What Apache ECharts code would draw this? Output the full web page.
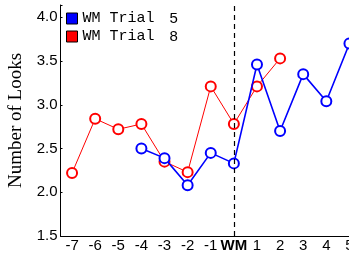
<!DOCTYPE html>
<html>
<head>
<meta charset="UTF-8">
<script src="https://cdn.jsdelivr.net/npm/echarts@6/dist/echarts.min.js"></script>
<style>
  html, body { margin: 0; padding: 0; background: #fff; }
  #chart { width: 349px; height: 255px; }
</style>
</head>
<body>
<div id="chart"></div>
<script>
// trial positions relative to the WM trial
var trials = ['-7', '-6', '-5', '-4', '-3', '-2', '-1', 'WM', '1', '2', '3', '4', '5'];
// mean number of looks
var wmTrial5 = [null, null, null, 2.50, 2.39, 2.08, 2.45, 2.33, 3.46, 2.70, 3.35, 3.04, 3.70];
var wmTrial8 = [2.22, 2.84, 2.72, 2.78, 2.35, 2.23, 3.21, 2.78, 3.21, 3.53, null, null, null];

var chart = echarts.init(document.getElementById('chart'));
chart.setOption({
    animation: false,
    grid: { left: 60.5, right: -12, top: 5, bottom: 19, containLabel: false, outerBoundsMode: 'none' },
    legend: {
        orient: 'vertical',
        left: 61,
        top: 6,
        itemWidth: 11,
        itemHeight: 11,
        itemGap: 3,
        icon: 'rect',
        itemStyle: { borderColor: '#000', borderWidth: 1 },
        formatter: function (name) {
            var parts = name.split(' ');
            var num = parts.pop();
            return '{a|' + parts.join(' ') + '}{b|' + num + '}';
        },
        textStyle: {
            rich: {
                a: { fontFamily: 'Liberation Mono', fontSize: 15, color: '#000' },
                b: { fontFamily: 'Liberation Sans', fontSize: 15, color: '#000', padding: [0, 0, 0, 15] }
            }
        },
        data: ['WM Trial 5', 'WM Trial 8']
    },
    xAxis: {
        type: 'category',
        data: trials,
        boundaryGap: true,
        axisLine: { lineStyle: { color: '#000', width: 1 } },
        axisTick: { alignWithLabel: true, interval: 0, length: 4, lineStyle: { color: '#000' } },
        axisLabel: {
            interval: 0,
            color: '#000', fontFamily: 'Liberation Sans', fontSize: 15, margin: 2,
            formatter: function (v) { return v === 'WM' ? '{w|WM}' : v; },
            rich: { w: { fontWeight: 'bold', fontFamily: 'Liberation Sans', fontSize: 15, color: '#000' } }
        },
        splitLine: { show: false }
    },
    yAxis: {
        type: 'value',
        min: 1.5,
        max: 4.14,
        interval: 0.5,
        name: 'Number of Looks',
        nameLocation: 'middle',
        nameGap: 32,
        nameTextStyle: { fontFamily: 'Liberation Serif', fontSize: 19, color: '#000' },
        axisLine: { show: true, lineStyle: { color: '#000', width: 1 } },
        axisTick: { show: true, inside: true, length: 2, lineStyle: { color: '#000' } },
        axisLabel: {
            color: '#000', fontFamily: 'Liberation Sans', fontSize: 15, margin: 3,
            formatter: function (v) {
                return Math.abs(v * 2 - Math.round(v * 2)) < 1e-6 ? v.toFixed(1) : '';
            }
        },
        splitLine: { show: false }
    },
    series: [
        {
            name: 'WM Trial 5',
            type: 'line',
            data: wmTrial5,
            symbol: 'emptyCircle',
            symbolSize: 10,
            lineStyle: { width: 1.6, color: '#0000ff' },
            itemStyle: { color: '#0000ff', borderColor: '#0000ff', borderWidth: 1.3 },
            z: 3
        },
        {
            name: 'WM Trial 8',
            type: 'line',
            data: wmTrial8,
            symbol: 'emptyCircle',
            symbolSize: 10,
            lineStyle: { width: 1, color: '#ff0000' },
            itemStyle: { color: '#ff0000', borderColor: '#ff0000', borderWidth: 1.3 },
            z: 2,
            markLine: {
                silent: true,
                symbol: 'none',
                label: { show: false },
                lineStyle: { color: '#000', type: [5, 4], width: 1.2 },
                data: [{ xAxis: 'WM' }]
            }
        }
    ]
});
</script>
</body>
</html>
